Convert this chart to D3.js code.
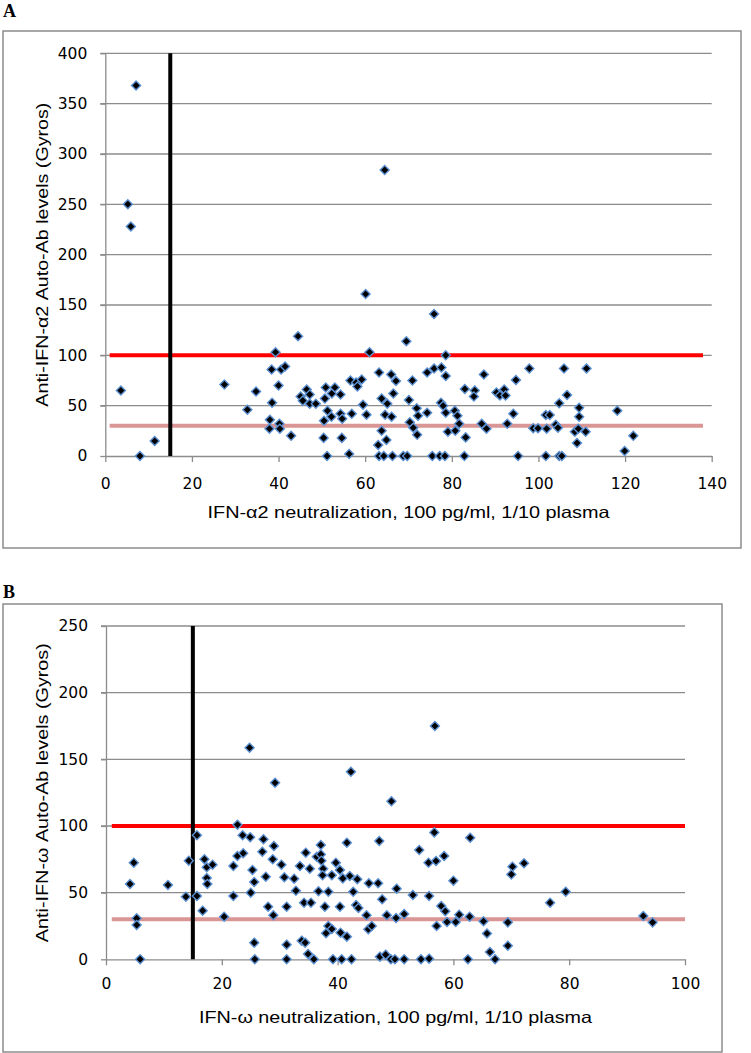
<!DOCTYPE html>
<html>
<head>
<meta charset="utf-8">
<script src="https://cdn.jsdelivr.net/npm/d3@7"></script>
<style>
  body { margin: 0; background: #fff; }
  svg { display: block; }
  .tick text { font-family: "DejaVu Sans", sans-serif; font-size: 15.5px; fill: #000; }
  .title { font-family: "Liberation Sans", Arial, sans-serif; font-size: 16.5px; fill: #000; }
  .panel { font-family: "Liberation Serif", serif; font-weight: bold; font-size: 18px; }
</style>
</head>
<body>
<svg id="chart"></svg>
<script>
// panel A: IFN-alpha2 neutralization (x) vs anti-IFN-alpha2 (y)
var alphaX = [3.6, 5.2, 5.9, 7.1, 8, 11.4,
  27.5, 32.8, 34.8, 38.4, 39.3, 40.6, 41.5, 40, 38.5, 38, 37.9, 40.2, 40.3, 42.9, 44.5, 45.1, 45.6, 46.5, 47.2, 47.2, 48.6,
  50.9, 52.3, 53, 50.7, 51.3, 52.2, 50.5, 50.4, 51.2, 54.3, 54.3, 54.7, 54.6, 56.3, 56.9, 56.6, 57.9, 59.2, 58.2, 59.5, 60.3, 60.1, 61,
  63.2, 63.8, 65.1, 64.6, 66.1, 63.8, 64.9, 63, 63.2, 64.3, 66.3, 66, 67.1, 66.5, 69.5, 64.5, 68.8, 69.7,
  70.1, 71.9, 72.2, 74.3, 70.3, 71.1, 72, 70.9, 74.3, 75.9, 77.6, 78.6, 78.6, 77.5, 78, 78.6, 75.5, 77.2, 78.4, 75.9, 79.1,
  80.7, 81.3, 81.7, 80.8, 83.2, 82.9, 83, 85.3, 85.1, 87.4, 86.9, 88,
  90.3, 91.1, 92.1, 92.4, 94.8, 92.8, 94.2, 95.3, 97.9, 98.8, 99.9,
  101.7, 102.6, 101.9, 104, 104.5, 101.7, 104.8, 105.4, 105.9, 106.6, 104.8, 108.4, 109.2, 108.9, 109.4, 109.4,
  111.1, 110.9, 118.2, 119.9, 121.9];
var alphaY = [65, 250, 228, 368, 0, 15,
  71, 46, 64, 86, 103, 86, 89, 70, 53, 36, 27, 32, 27, 20, 119, 59, 55, 66, 61, 52, 52,
  68, 62, 68, 57, 45, 39, 35, 18, 0, 61, 42, 37, 18, 2, 42, 75, 73, 76, 69, 51, 41, 161, 103,
  83, 57, 52, 41, 39, 25, 16, 11, 0, 0, 0, 81, 74.5, 62, 114, 284, 0, 0,
  55.6, 47.4, 40, 43, 33.5, 28, 21, 75, 83, 87, 88, 79.5, 100, 53, 50, 43, 0, 0, 0, 141, 24,
  45, 40, 32, 25, 18.5, 0, 66.6, 65, 59, 81, 32, 27,
  63, 60, 66, 60, 75.5, 32, 42, 0, 87, 27.5, 27.5,
  40.7, 40.7, 27, 31, 28, 0, 0, 0, 87, 60.6, 52.3, 24, 27, 13, 48, 39,
  87, 24, 45, 5, 20];

// panel B: IFN-omega neutralization (x) vs anti-IFN-omega (y)
var omegaX = [4.15, 4.8, 5.3, 5.3, 5.9, 10.7, 13.8, 14.3,
  15.7, 15.7, 16.7, 17, 17.4, 17.4, 17.5, 18.4, 20.4, 22, 22, 22.7, 22.7, 23.6, 23.7, 24.9, 24.8, 25, 25.3, 25.6, 25.6, 25.7,
  27.2, 27, 27.6, 28, 28.8, 29, 28.9, 29.2, 30.3, 30.8, 31.2, 31.2, 31.2, 32.5, 32.8, 33.5, 33.8, 34.4, 34.2, 34.5, 35.2, 35.4, 34.9, 35.9,
  36.4, 36.7, 37.1, 37.1, 37.2, 37.5, 37.4, 37.8, 38.4, 38, 39, 39, 39.2, 39.7, 40.4, 40.4, 40.5, 40.7, 40.9, 41.6, 41.6, 42.1, 42.4, 42.7, 43.2, 43.6, 43.4, 42.3, 38.4,
  45, 45.3, 45.9, 45.4, 47, 47.2, 47.3, 48.3, 47.7, 48.5, 49.2, 49.9, 49.3, 50.2, 50.1, 51.5, 51.5, 53, 54.1, 54.4,
  55.7, 57, 58.4, 56.7, 55.8, 55.8, 57.1, 57.9, 58.6, 58.9, 60.4, 61, 60, 62.9, 62.8, 62.5, 56.8,
  65.2, 65.8, 66.3, 67.2, 69.4, 69.4, 70.2, 70, 72.2, 76.7, 79.4, 92.8, 94.4];
var omegaY = [56.5, 72.5, 30.7, 25.7, 0, 55.7, 47, 74,
  93, 47.5, 36.5, 75, 69, 61, 56.5, 71, 32, 47.5, 70, 77.5, 101, 93, 79.5, 91.5, 158.7, 50, 67, 58, 12.5, 0,
  90, 80.7, 62, 39.5, 75, 85, 33, 132.5, 71, 61.5, 39.5, 11, 0, 60.5, 51.5, 70, 14, 12.5, 42.5, 80, 68, 42.5, 4, 0,
  77, 51, 85.7, 78.7, 74, 68, 63, 39.5, 25, 19.5, 22.7, 63, 0, 72.5, 67, 39.5, 20, 0, 60.7, 17, 87.5, 62.5, 0, 50.7, 40.7, 38.5, 60, 140.7, 50.7,
  33, 22.5, 25, 57, 57, 88.7, 2, 3.5, 45, 33, 0, 0, 118.5, 53, 31, 34, 0, 48.2, 82, 0,
  72.5, 73.7, 77.5, 95.2, 47.5, 0.5, 25, 40, 36, 28, 28, 33.5, 59, 91.2, 32, 0, 175,
  28.5, 19.3, 5.5, 0, 27.7, 10.2, 69.5, 63.7, 72, 42.5, 50.7, 32.5, 27.7];

var alphaXTicks = [0, 20, 40, 60, 80, 100, 120, 140];
var alphaYTicks = [0, 50, 100, 150, 200, 250, 300, 350, 400];
var omegaXTicks = [0, 20, 40, 60, 80, 100];
var omegaYTicks = [0, 50, 100, 150, 200, 250];

// reference lines: [x0, x1, y]
var alphaHigh = [1, 138, 100];
var alphaLow = [1, 138, 30];
var omegaHigh = [1, 100, 100];
var omegaLow = [1, 100, 30];
var cutoffX = 15;

var svg = d3.select("#chart").attr("width", 751).attr("height", 1053);

function drawPanel(p) {
    var g = svg.append("g");

    g.append("rect")
        .attr("x", p.frame[0]).attr("y", p.frame[1])
        .attr("width", p.frame[2]).attr("height", p.frame[3])
        .attr("fill", "#fff").attr("stroke", "#8c8c8c").attr("stroke-width", 1.5);

    g.append("text").attr("class", "panel")
        .attr("x", p.frame[0]).attr("y", p.labelY).text(p.label);

    var x = d3.scaleLinear().domain([0, d3.max(p.xTicks)]).range([p.left, p.right]);
    var y = d3.scaleLinear().domain([0, d3.max(p.yTicks)]).range([p.bottom, p.top]);

    // gridlines
    g.selectAll("line.grid").data(p.yTicks.slice(1)).enter().append("line")
        .attr("x1", p.left - 5).attr("x2", p.right)
        .attr("y1", (d) => y(d)).attr("y2", (d) => y(d))
        .attr("stroke", "#8c8c8c").attr("stroke-width", 1.3);

    var ya = g.append("g").attr("transform", "translate(" + p.left + ",0)")
        .call(d3.axisLeft(y).tickValues(p.yTicks).tickSize(5).tickPadding(13).tickSizeOuter(0));
    var xa = g.append("g").attr("transform", "translate(0," + p.bottom + ")")
        .call(d3.axisBottom(x).tickValues(p.xTicks).tickSize(6).tickPadding(p.xPad).tickSizeOuter(0));
    [ya, xa].forEach(function (a) {
        a.select(".domain").attr("stroke", "#8c8c8c").attr("stroke-width", 1.3);
        a.selectAll(".tick line").attr("stroke", "#8c8c8c").attr("stroke-width", 1.3);
    });

    // threshold lines
    [[p.low, "#d99694"], [p.high, "#ff0000"]].forEach(function (r) {
        g.append("line")
            .attr("x1", x(r[0][0])).attr("x2", x(r[0][1]))
            .attr("y1", y(r[0][2])).attr("y2", y(r[0][2]))
            .attr("stroke", r[1]).attr("stroke-width", 4);
    });
    g.append("line")
        .attr("x1", x(cutoffX)).attr("x2", x(cutoffX))
        .attr("y1", y(0)).attr("y2", y(d3.max(p.yTicks)))
        .attr("stroke", "#000").attr("stroke-width", 4);

    var pts = p.xs.map((d, i) => ({ x: d, y: p.ys[i] }));
    var sym = d3.symbol().type(d3.symbolDiamond2).size(52);
    g.selectAll("path.pt").data(pts).enter().append("path")
        .attr("class", "pt")
        .attr("transform", (d) => "translate(" + x(d.x) + "," + y(d.y) + ")")
        .attr("d", sym)
        .attr("fill", "#000")
        .attr("stroke", "#5b8fd0")
        .attr("stroke-width", 1.4);

    // the source image is a bit stretched sideways, so fix the text widths
    g.append("text").attr("class", "title")
        .attr("text-anchor", "middle")
        .attr("transform", "translate(" + p.yTitleX + "," + (p.top + p.bottom) / 2 + ") rotate(-90)")
        .attr("dy", "0.35em")
        .attr("textLength", p.yTitleLen).attr("lengthAdjust", "spacingAndGlyphs")
        .text(p.yTitle);
    g.append("text").attr("class", "title")
        .attr("text-anchor", "middle")
        .attr("x", (p.left + p.right) / 2).attr("y", p.xTitleY)
        .attr("textLength", p.xTitleLen).attr("lengthAdjust", "spacingAndGlyphs")
        .text(p.xTitle);
}

drawPanel({
    label: "A", labelY: 17, frame: [3, 31, 738, 517],
    left: 105.3, right: 711.7, top: 53.3, bottom: 456, xPad: 16,
    xTicks: alphaXTicks, yTicks: alphaYTicks, xs: alphaX, ys: alphaY,
    high: alphaHigh, low: alphaLow,
    yTitleX: 42, xTitleY: 518, yTitleLen: 304, xTitleLen: 402,
    yTitle: "Anti-IFN-\u03b12 Auto-Ab levels (Gyros)",
    xTitle: "IFN-\u03b12 neutralization, 100 pg/ml, 1/10 plasma"
});

drawPanel({
    label: "B", labelY: 598, frame: [3, 604, 719, 448],
    left: 106, right: 685, top: 626, bottom: 959.3, xPad: 13,
    xTicks: omegaXTicks, yTicks: omegaYTicks, xs: omegaX, ys: omegaY,
    high: omegaHigh, low: omegaLow,
    yTitleX: 42, xTitleY: 1023, yTitleLen: 299, xTitleLen: 393,
    yTitle: "Anti-IFN-\u03c9 Auto-Ab levels (Gyros)",
    xTitle: "IFN-\u03c9 neutralization, 100 pg/ml, 1/10 plasma"
});
</script>
</body>
</html>
